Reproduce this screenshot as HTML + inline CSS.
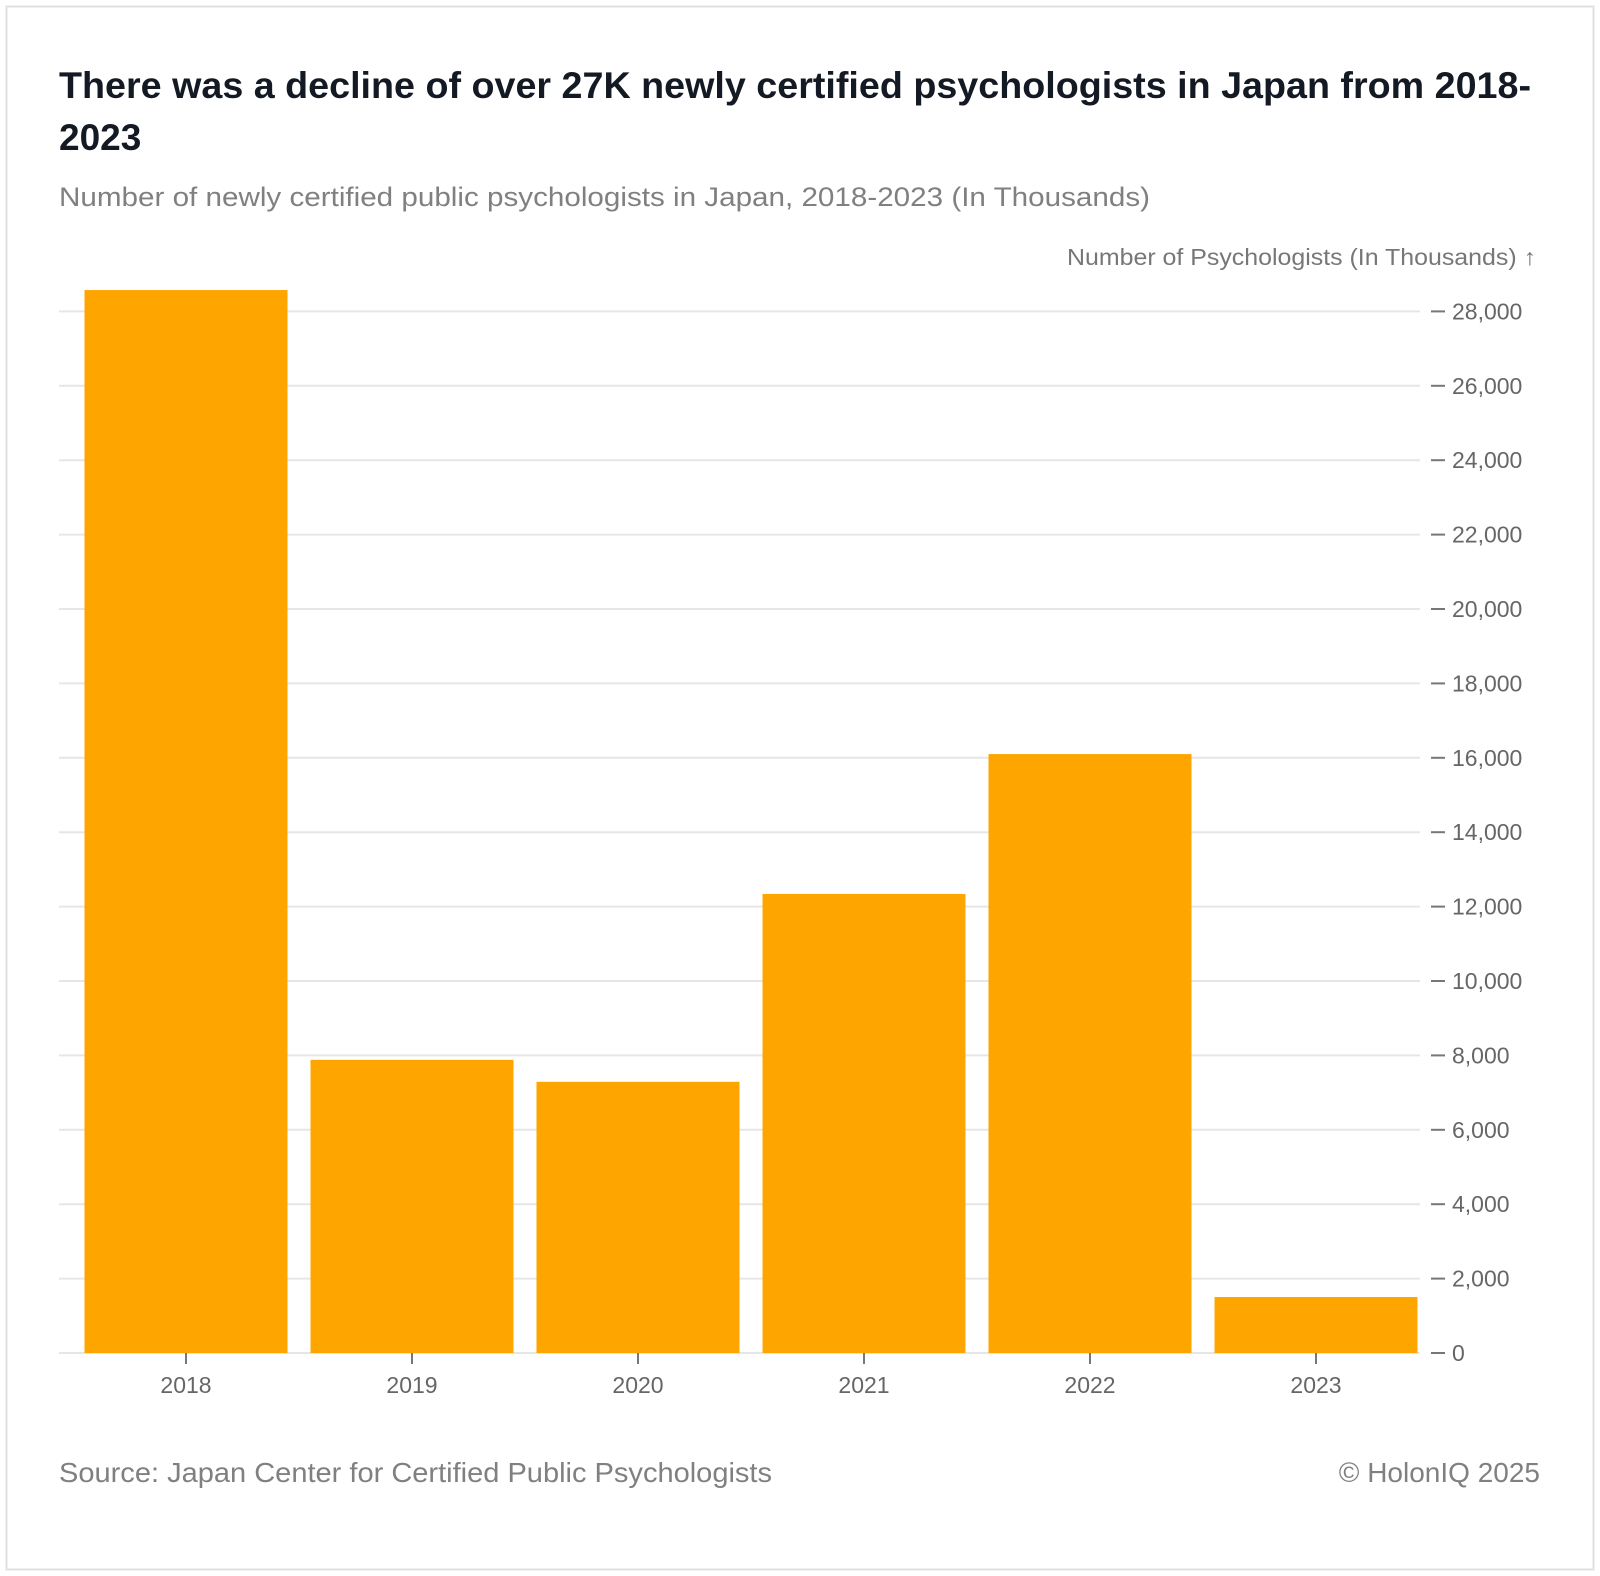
<!DOCTYPE html>
<html><head><meta charset="utf-8"><style>
html,body{margin:0;padding:0;background:#fff;}
svg{display:block;font-family:"Liberation Sans",sans-serif;}
</style></head><body>
<svg id="chart" width="1600" height="1576" viewBox="0 0 1600 1576">
<rect x="6.5" y="6.5" width="1587" height="1563" fill="#fff" stroke="#e0e0e0" stroke-width="2"/>
<text x="59" y="98" font-size="37" font-weight="bold" fill="#141a24" textLength="1472" lengthAdjust="spacingAndGlyphs">There was a decline of over 27K newly certified psychologists in Japan from 2018-</text>
<text x="59" y="150" font-size="37" font-weight="bold" fill="#141a24">2023</text>
<text x="59" y="206" font-size="27" fill="#808080" textLength="1091" lengthAdjust="spacingAndGlyphs">Number of newly certified public psychologists in Japan, 2018-2023 (In Thousands)</text>
<text x="1536" y="265" font-size="23" fill="#777" text-anchor="end" textLength="469" lengthAdjust="spacingAndGlyphs">Number of Psychologists (In Thousands) ↑</text>
<g id="grid"></g><g id="bars"></g><g id="axes"></g>
<text x="59" y="1482" font-size="28" fill="#808080" textLength="713" lengthAdjust="spacingAndGlyphs">Source: Japan Center for Certified Public Psychologists</text>
<text x="1540" y="1482" font-size="28" fill="#808080" text-anchor="end">© HolonIQ 2025</text>
</svg>
<script>
const categories = ["2018","2019","2020","2021","2022","2023"];
const values = [28574, 7880, 7290, 12340, 16100, 1505];
const yTicks = [0,2000,4000,6000,8000,10000,12000,14000,16000,18000,20000,22000,24000,26000,28000];
const NS="http://www.w3.org/2000/svg";
const y0=1353, pxPer=74.4/2000;
function y(v){return y0-v*pxPer;}
const step=226, bandStart=73, barW=203;
function xCenter(i){return bandStart+step*i+step/2;}
function mk(tag,attrs,parent){const e=document.createElementNS(NS,tag);for(const k in attrs)e.setAttribute(k,attrs[k]);parent.appendChild(e);return e;}
const grid=document.getElementById('grid'),bars=document.getElementById('bars'),axes=document.getElementById('axes');
yTicks.forEach(t=>{
  const l=mk('line',{x1:59,x2:1420,y1:y(t),y2:y(t),stroke:'#e6e6e6','stroke-width':2},grid);
  
  
  const tk=mk('line',{x1:1431,x2:1445,y1:y(t),y2:y(t),stroke:'#777','stroke-width':2},axes);
  
  
  const tx=mk('text',{x:1452,y:y(t)+8,'font-size':23,fill:'#666'},axes);
  tx.textContent=t.toLocaleString('en-US');
  
  
});
values.forEach((v,i)=>{
  const r=mk('rect',{x:xCenter(i)-barW/2,y:y(v),width:barW,height:y0-y(v),fill:'#ffa500'},bars);
  
  
  const tk=mk('line',{x1:xCenter(i),x2:xCenter(i),y1:y0,y2:y0+11,stroke:'#777','stroke-width':2},axes);
  
  
  const tx=mk('text',{x:xCenter(i),y:1393,'font-size':23,fill:'#666','text-anchor':'middle'},axes);
  tx.textContent=categories[i];
  
  
});
</script>
</body></html>
